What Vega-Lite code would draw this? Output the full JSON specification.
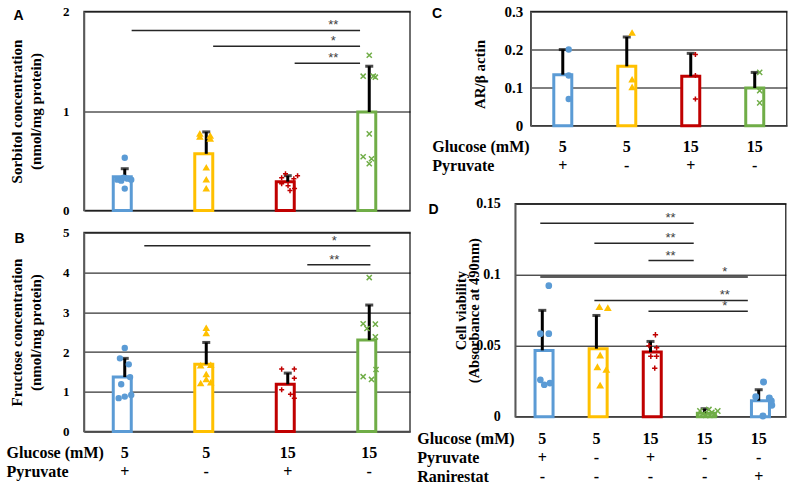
{
  "$schema": "https://vega.github.io/schema/vega-lite/v6.json",
  "background": "white",
  "padding": {"left": 5, "top": 3.5, "right": 0, "bottom": 0},
  "datasets": {
    "bars": [
      {"panel": "A", "g": "5|+", "mean": 0.34, "hi": 0.42},
      {"panel": "A", "g": "5|-", "mean": 0.57, "hi": 0.79},
      {"panel": "A", "g": "15|+", "mean": 0.29, "hi": 0.35},
      {"panel": "A", "g": "15|-", "mean": 0.99, "hi": 1.45},
      {"panel": "B", "g": "5|+", "mean": 1.37, "hi": 1.84},
      {"panel": "B", "g": "5|-", "mean": 1.69, "hi": 2.24},
      {"panel": "B", "g": "15|+", "mean": 1.19, "hi": 1.47},
      {"panel": "B", "g": "15|-", "mean": 2.3, "hi": 3.18},
      {"panel": "C", "g": "5|+", "mean": 0.134, "hi": 0.2},
      {"panel": "C", "g": "5|-", "mean": 0.156, "hi": 0.233},
      {"panel": "C", "g": "15|+", "mean": 0.13, "hi": 0.19},
      {"panel": "C", "g": "15|-", "mean": 0.099, "hi": 0.14},
      {"panel": "D", "g": "5|+|-", "mean": 0.0467, "hi": 0.0749},
      {"panel": "D", "g": "5|-|-", "mean": 0.0479, "hi": 0.0713},
      {"panel": "D", "g": "15|+|-", "mean": 0.0455, "hi": 0.053},
      {"panel": "D", "g": "15|-|-", "mean": 0.0025, "hi": 0.0056},
      {"panel": "D", "g": "15|-|+", "mean": 0.0113, "hi": 0.019}
    ],
    "pts": [
      {"panel": "A", "g": "5|+", "v": 0.53, "j": 0},
      {"panel": "A", "g": "5|+", "v": 0.31, "j": -0.75},
      {"panel": "A", "g": "5|+", "v": 0.30, "j": -0.36},
      {"panel": "A", "g": "5|+", "v": 0.33, "j": -0.1},
      {"panel": "A", "g": "5|+", "v": 0.32, "j": 0.28},
      {"panel": "A", "g": "5|+", "v": 0.31, "j": 0.66},
      {"panel": "A", "g": "5|+", "v": 0.22, "j": 0},
      {"panel": "A", "g": "5|-", "v": 0.77, "j": -0.65},
      {"panel": "A", "g": "5|-", "v": 0.74, "j": -0.65},
      {"panel": "A", "g": "5|-", "v": 0.75, "j": 0.41},
      {"panel": "A", "g": "5|-", "v": 0.72, "j": 0.41},
      {"panel": "A", "g": "5|-", "v": 0.43, "j": 0},
      {"panel": "A", "g": "5|-", "v": 0.31, "j": 0},
      {"panel": "A", "g": "5|-", "v": 0.22, "j": 0},
      {"panel": "A", "g": "15|+", "v": 0.33, "j": -0.62},
      {"panel": "A", "g": "15|+", "v": 0.37, "j": -0.23},
      {"panel": "A", "g": "15|+", "v": 0.32, "j": 0.62},
      {"panel": "A", "g": "15|+", "v": 0.35, "j": 1.0},
      {"panel": "A", "g": "15|+", "v": 0.27, "j": -0.62},
      {"panel": "A", "g": "15|+", "v": 0.25, "j": 0.03},
      {"panel": "A", "g": "15|+", "v": 0.20, "j": 0.23},
      {"panel": "A", "g": "15|+", "v": 0.22, "j": 0.69},
      {"panel": "A", "g": "15|-", "v": 1.56, "j": 0},
      {"panel": "A", "g": "15|-", "v": 1.35, "j": -0.62},
      {"panel": "A", "g": "15|-", "v": 1.35, "j": 0.41},
      {"panel": "A", "g": "15|-", "v": 1.34, "j": 0.62},
      {"panel": "A", "g": "15|-", "v": 0.77, "j": 0},
      {"panel": "A", "g": "15|-", "v": 0.54, "j": -0.62},
      {"panel": "A", "g": "15|-", "v": 0.52, "j": 0.23},
      {"panel": "A", "g": "15|-", "v": 0.47, "j": 0},
      {"panel": "B", "g": "5|+", "v": 2.10, "j": 0},
      {"panel": "B", "g": "5|+", "v": 1.84, "j": -0.49},
      {"panel": "B", "g": "5|+", "v": 1.69, "j": 0.41},
      {"panel": "B", "g": "5|+", "v": 1.37, "j": 0.54},
      {"panel": "B", "g": "5|+", "v": 1.19, "j": -0.36},
      {"panel": "B", "g": "5|+", "v": 0.84, "j": -0.62},
      {"panel": "B", "g": "5|+", "v": 0.88, "j": 0},
      {"panel": "B", "g": "5|+", "v": 0.92, "j": 0.66},
      {"panel": "B", "g": "5|-", "v": 2.60, "j": 0},
      {"panel": "B", "g": "5|-", "v": 2.47, "j": 0},
      {"panel": "B", "g": "5|-", "v": 1.66, "j": -0.57},
      {"panel": "B", "g": "5|-", "v": 1.67, "j": 0.46},
      {"panel": "B", "g": "5|-", "v": 1.44, "j": 0},
      {"panel": "B", "g": "5|-", "v": 1.31, "j": 0},
      {"panel": "B", "g": "5|-", "v": 1.21, "j": -0.57},
      {"panel": "B", "g": "5|-", "v": 1.23, "j": 0.46},
      {"panel": "B", "g": "15|+", "v": 1.57, "j": -0.62},
      {"panel": "B", "g": "15|+", "v": 1.57, "j": 0.67},
      {"panel": "B", "g": "15|+", "v": 1.34, "j": 0.67},
      {"panel": "B", "g": "15|+", "v": 1.05, "j": -0.62},
      {"panel": "B", "g": "15|+", "v": 0.94, "j": 0.28},
      {"panel": "B", "g": "15|+", "v": 0.84, "j": 0.67},
      {"panel": "B", "g": "15|-", "v": 3.87, "j": 0},
      {"panel": "B", "g": "15|-", "v": 2.71, "j": -0.62},
      {"panel": "B", "g": "15|-", "v": 2.59, "j": -0.23},
      {"panel": "B", "g": "15|-", "v": 2.70, "j": 0.62},
      {"panel": "B", "g": "15|-", "v": 2.38, "j": 0.62},
      {"panel": "B", "g": "15|-", "v": 1.38, "j": -0.62},
      {"panel": "B", "g": "15|-", "v": 1.31, "j": 0.23},
      {"panel": "B", "g": "15|-", "v": 1.56, "j": 0.69},
      {"panel": "C", "g": "5|+", "v": 0.20, "j": 0.35},
      {"panel": "C", "g": "5|+", "v": 0.132, "j": 0.35},
      {"panel": "C", "g": "5|+", "v": 0.070, "j": 0.35},
      {"panel": "C", "g": "5|-", "v": 0.244, "j": 0.29},
      {"panel": "C", "g": "5|-", "v": 0.121, "j": 0.29},
      {"panel": "C", "g": "5|-", "v": 0.101, "j": 0.29},
      {"panel": "C", "g": "15|+", "v": 0.187, "j": 0.22},
      {"panel": "C", "g": "15|+", "v": 0.132, "j": 0.22},
      {"panel": "C", "g": "15|+", "v": 0.070, "j": 0.22},
      {"panel": "C", "g": "15|-", "v": 0.140, "j": 0.25},
      {"panel": "C", "g": "15|-", "v": 0.092, "j": 0.25},
      {"panel": "C", "g": "15|-", "v": 0.060, "j": 0.25},
      {"panel": "D", "g": "5|+|-", "v": 0.0923, "j": 0.23},
      {"panel": "D", "g": "5|+|-", "v": 0.0585, "j": -0.63},
      {"panel": "D", "g": "5|+|-", "v": 0.0585, "j": 0.23},
      {"panel": "D", "g": "5|+|-", "v": 0.026, "j": -0.63},
      {"panel": "D", "g": "5|+|-", "v": 0.0225, "j": -0.23},
      {"panel": "D", "g": "5|+|-", "v": 0.0237, "j": 0.35},
      {"panel": "D", "g": "5|-|-", "v": 0.0772, "j": -0.13},
      {"panel": "D", "g": "5|-|-", "v": 0.0765, "j": 0.73},
      {"panel": "D", "g": "5|-|-", "v": 0.0432, "j": -0.05},
      {"panel": "D", "g": "5|-|-", "v": 0.0349, "j": -0.33},
      {"panel": "D", "g": "5|-|-", "v": 0.0331, "j": 0.58},
      {"panel": "D", "g": "5|-|-", "v": 0.022, "j": -0.05},
      {"panel": "D", "g": "15|+|-", "v": 0.0577, "j": 0.07},
      {"panel": "D", "g": "15|+|-", "v": 0.050, "j": -0.59},
      {"panel": "D", "g": "15|+|-", "v": 0.0485, "j": 0.19},
      {"panel": "D", "g": "15|+|-", "v": 0.0425, "j": -0.4},
      {"panel": "D", "g": "15|+|-", "v": 0.0425, "j": 0.19},
      {"panel": "D", "g": "15|+|-", "v": 0.0342, "j": 0},
      {"panel": "D", "g": "15|-|-", "v": 0.004, "j": -0.9},
      {"panel": "D", "g": "15|-|-", "v": 0.002, "j": -0.6},
      {"panel": "D", "g": "15|-|-", "v": 0.001, "j": -0.3},
      {"panel": "D", "g": "15|-|-", "v": 0.005, "j": 0},
      {"panel": "D", "g": "15|-|-", "v": 0.003, "j": 0.3},
      {"panel": "D", "g": "15|-|-", "v": 0.002, "j": 0.6},
      {"panel": "D", "g": "15|-|-", "v": 0.004, "j": 0.9},
      {"panel": "D", "g": "15|-|-", "v": 0.001, "j": 0.1},
      {"panel": "D", "g": "15|-|+", "v": 0.0245, "j": 0.06},
      {"panel": "D", "g": "15|-|+", "v": 0.014, "j": -0.73},
      {"panel": "D", "g": "15|-|+", "v": 0.0132, "j": 0.65},
      {"panel": "D", "g": "15|-|+", "v": 0.011, "j": 0.85},
      {"panel": "D", "g": "15|-|+", "v": 0.008, "j": 0.9},
      {"panel": "D", "g": "15|-|+", "v": 0.0005, "j": 0}
    ],
    "sig": [
      {"panel": "A", "from": "5|+", "to": "15|-", "y": 1.81, "s": "**"},
      {"panel": "A", "from": "5|-", "to": "15|-", "y": 1.65, "s": "*"},
      {"panel": "A", "from": "15|+", "to": "15|-", "y": 1.48, "s": "**"},
      {"panel": "B", "from": "5|+", "to": "15|-", "y": 4.67, "s": "*"},
      {"panel": "B", "from": "15|+", "to": "15|-", "y": 4.19, "s": "**"},
      {"panel": "D", "from": "5|+|-", "to": "15|-|-", "y": 0.1363, "s": "**"},
      {"panel": "D", "from": "5|-|-", "to": "15|-|-", "y": 0.1222, "s": "**"},
      {"panel": "D", "from": "15|+|-", "to": "15|-|-", "y": 0.110, "s": "**"},
      {"panel": "D", "from": "5|+|-", "to": "15|-|+", "y": 0.0983, "s": "*"},
      {"panel": "D", "from": "5|-|-", "to": "15|-|+", "y": 0.0819, "s": "**"},
      {"panel": "D", "from": "15|+|-", "to": "15|-|+", "y": 0.0742, "s": "*"}
    ]
  },
  "spacing": 4.25,
  "hconcat": [
    {
      "spacing": 7.1,
      "vconcat": [
        {
          "width": 326, "height": 199,
          "layer": [
            {"data": {"name": "bars"}, "transform": [{"filter": "datum.panel == 'A'"}],
             "mark": {"type": "bar", "fill": "white", "strokeWidth": 3},
             "encoding": {
               "x": {"field": "g", "type": "nominal", "scale": {"domain": ["5|+", "5|-", "15|+", "15|-"], "paddingInner": 0.718, "paddingOuter": 0.359},
                     "axis": {"orient": "top", "labels": false, "domain": false, "grid": false, "title": "A", "titleFont": "Liberation Sans", "titleFontSize": 14, "titleX": -71, "titleY": 7.8, "titleAlign": "left", "titleBaseline": "alphabetic", "titleAngle": 0}},
               "y": {"field": "mean", "type": "quantitative", "scale": {"domain": [0, 2], "nice": false}, "axis": {"tickCount": 2, "format": "d", "grid": true, "title": ["Sorbitol concentration", "(nmol/mg protein)"], "titleFontSize": 15, "titleLineHeight": 19, "titleX": -74.5, "titleY": 99.5, "titleAngle": -90, "titleAlign": "center", "titleBaseline": "top", "labelFontSize": 13, "labelPadding": 15}},
               "stroke": {"field": "g", "type": "nominal", "scale": {"domain": ["5|+", "5|-", "15|+", "15|-"], "range": ["#5B9BD5", "#FFC000", "#C00000", "#70AD47"]}, "legend": null}
             }},
            {"data": {"name": "bars"}, "transform": [{"filter": "datum.panel == 'A'"}],
             "mark": {"type": "rule", "color": "black", "strokeWidth": 3},
             "encoding": {"x": {"field": "g", "type": "nominal"}, "y": {"field": "mean", "type": "quantitative"}, "y2": {"field": "hi"}}},
            {"data": {"name": "bars"}, "transform": [{"filter": "datum.panel == 'A'"}],
             "mark": {"type": "tick", "color": "black", "size": 8, "thickness": 3},
             "encoding": {"x": {"field": "g", "type": "nominal"}, "y": {"field": "hi", "type": "quantitative"}}},
            {"data": {"name": "pts"}, "transform": [{"filter": "datum.panel == 'A'"}],
             "mark": {"type": "point", "filled": true, "strokeWidth": 1.5, "opacity": 1},
             "encoding": {
               "x": {"field": "g", "type": "nominal"},
               "xOffset": {"field": "j", "type": "quantitative", "scale": {"domain": [-1.13, 1.13]}},
               "y": {"field": "v", "type": "quantitative"},
               "color": {"field": "g", "type": "nominal", "scale": {"domain": ["5|+", "5|-", "15|+", "15|-"], "range": ["#5B9BD5", "#FFC000", "#C00000", "#70AD47"]}, "legend": null},
               "stroke": {"field": "g", "type": "nominal", "legend": null},
               "shape": {"field": "g", "type": "nominal", "scale": {"domain": ["5|+", "5|-", "15|+", "15|-"], "range": ["circle", "triangle-up", "M-1,0L1,0M0,-1L0,1", "M-1,-1L1,1M-1,1L1,-1"]}, "legend": null},
               "size": {"field": "g", "type": "ordinal", "scale": {"domain": ["5|+", "5|-", "15|+", "15|-"], "range": [24, 30, 64, 56]}, "legend": null}
             }},
            {"data": {"name": "sig"}, "transform": [{"filter": "datum.panel == 'A'"}],
             "mark": {"type": "rule", "color": "#262626", "strokeWidth": 1.5},
             "encoding": {"x": {"field": "from", "type": "nominal", "bandPosition": 0.8}, "x2": {"field": "to", "bandPosition": 0.1}, "y": {"field": "y", "type": "quantitative"}}},
            {"data": {"name": "sig"}, "transform": [{"filter": "datum.panel == 'A'"}],
             "mark": {"type": "text", "font": "Liberation Sans", "fontSize": 13, "color": "#404040", "dx": -36, "dy": -1, "baseline": "alphabetic", "align": "center"},
             "encoding": {"x": {"field": "to", "type": "nominal"}, "y": {"field": "y", "type": "quantitative"}, "text": {"field": "s"}}}
          ]
        },
        {
          "width": 326, "height": 199,
          "resolve": {"axis": {"x": "independent"}},
          "layer": [
            {"data": {"name": "bars"}, "transform": [{"filter": "datum.panel == 'B'"}],
             "mark": {"type": "bar", "fill": "white", "strokeWidth": 3},
             "encoding": {
               "x": {"field": "g", "type": "nominal", "scale": {"domain": ["5|+", "5|-", "15|+", "15|-"], "paddingInner": 0.718, "paddingOuter": 0.359},
                     "axis": {"grid": false, "labelExpr": "split(datum.label, '|')", "labelAngle": 0, "labelAlign": "center", "labelFontSize": 16, "labelLineHeight": 19, "labelBaseline": "alphabetic", "labelPadding": 25.4,
                              "title": ["Glucose (mM)", "Pyruvate"], "titleX": -78, "titleY": 25.4, "titleAlign": "left", "titleBaseline": "alphabetic", "titleFontSize": 16, "titleLineHeight": 19, "titleAngle": 0}},
               "y": {"field": "mean", "type": "quantitative", "scale": {"domain": [0, 5], "nice": false}, "axis": {"values": [0, 1, 2, 3, 4, 5], "tickCount": 20, "format": "d", "grid": true, "title": ["Fructose concentration", "(nmol/mg protein)"], "titleFontSize": 15, "titleLineHeight": 19, "titleX": -74.5, "titleY": 99.5, "titleAngle": -90, "titleAlign": "center", "titleBaseline": "top", "labelFontSize": 13, "labelPadding": 15}},
               "stroke": {"field": "g", "type": "nominal", "scale": {"domain": ["5|+", "5|-", "15|+", "15|-"], "range": ["#5B9BD5", "#FFC000", "#C00000", "#70AD47"]}, "legend": null}
             }},
            {"data": {"name": "bars"}, "transform": [{"filter": "datum.panel == 'B'"}],
             "mark": {"type": "rule", "color": "black", "strokeWidth": 3},
             "encoding": {"x": {"field": "g", "type": "nominal", "axis": null}, "y": {"field": "mean", "type": "quantitative"}, "y2": {"field": "hi"}}},
            {"data": {"name": "bars"}, "transform": [{"filter": "datum.panel == 'B'"}],
             "mark": {"type": "tick", "color": "black", "size": 8, "thickness": 3},
             "encoding": {"x": {"field": "g", "type": "nominal", "axis": {"orient": "top", "labels": false, "domain": false, "grid": false, "title": "B", "titleFont": "Liberation Sans", "titleFontSize": 14, "titleX": -70, "titleY": 9.7, "titleAlign": "left", "titleBaseline": "alphabetic", "titleAngle": 0}}, "y": {"field": "hi", "type": "quantitative"}}},
            {"data": {"name": "pts"}, "transform": [{"filter": "datum.panel == 'B'"}],
             "mark": {"type": "point", "filled": true, "strokeWidth": 1.5, "opacity": 1},
             "encoding": {
               "x": {"field": "g", "type": "nominal", "axis": null},
               "xOffset": {"field": "j", "type": "quantitative", "scale": {"domain": [-1.13, 1.13]}},
               "y": {"field": "v", "type": "quantitative"},
               "color": {"field": "g", "type": "nominal", "scale": {"domain": ["5|+", "5|-", "15|+", "15|-"], "range": ["#5B9BD5", "#FFC000", "#C00000", "#70AD47"]}, "legend": null},
               "stroke": {"field": "g", "type": "nominal", "legend": null},
               "shape": {"field": "g", "type": "nominal", "scale": {"domain": ["5|+", "5|-", "15|+", "15|-"], "range": ["circle", "triangle-up", "M-1,0L1,0M0,-1L0,1", "M-1,-1L1,1M-1,1L1,-1"]}, "legend": null},
               "size": {"field": "g", "type": "ordinal", "scale": {"domain": ["5|+", "5|-", "15|+", "15|-"], "range": [24, 30, 64, 56]}, "legend": null}
             }},
            {"data": {"name": "sig"}, "transform": [{"filter": "datum.panel == 'B'"}],
             "mark": {"type": "rule", "color": "#262626", "strokeWidth": 1.5},
             "encoding": {"x": {"field": "from", "type": "nominal", "bandPosition": 1.35, "axis": null}, "x2": {"field": "to", "bandPosition": 0.55}, "y": {"field": "y", "type": "quantitative"}}},
            {"data": {"name": "sig"}, "transform": [{"filter": "datum.panel == 'B'"}],
             "mark": {"type": "text", "font": "Liberation Sans", "fontSize": 13, "color": "#404040", "dx": -35, "dy": -1, "baseline": "alphabetic", "align": "center"},
             "encoding": {"x": {"field": "to", "type": "nominal", "axis": null}, "y": {"field": "y", "type": "quantitative"}, "text": {"field": "s"}}}
          ]
        }
      ]
    },
    {
      "spacing": 21.2,
      "vconcat": [
        {
          "spacing": -86.5,
          "hconcat": [
            {"width": 1, "height": 1, "view": {"stroke": null}, "data": {"values": [{"k": 1}]}, "mark": {"type": "point", "opacity": 0, "size": 1, "strokeWidth": 0}},
            {
              "width": 256, "height": 114.2,
              "resolve": {"axis": {"x": "independent"}},
              "layer": [
                {"data": {"name": "bars"}, "transform": [{"filter": "datum.panel == 'C'"}],
                 "mark": {"type": "bar", "fill": "white", "strokeWidth": 3},
                 "encoding": {
                   "x": {"field": "g", "type": "nominal", "scale": {"domain": ["5|+", "5|-", "15|+", "15|-"], "paddingInner": 0.719, "paddingOuter": 0.36},
                         "axis": {"grid": false, "labelExpr": "split(datum.label, '|')", "labelAngle": 0, "labelAlign": "center", "labelFontSize": 16, "labelLineHeight": 19, "labelBaseline": "alphabetic", "labelPadding": 25.5,
                                  "title": ["Glucose (mM)", "Pyruvate"], "titleX": -99, "titleY": 25.5, "titleAlign": "left", "titleBaseline": "alphabetic", "titleFontSize": 16, "titleLineHeight": 19, "titleAngle": 0}},
                   "y": {"field": "mean", "type": "quantitative", "scale": {"domain": [0, 0.3], "nice": false}, "axis": {"values": [0, 0.1, 0.2, 0.3], "tickCount": 20, "format": "~g", "grid": true, "title": "AR/β actin", "titleFontSize": 15, "titleX": -58.5, "titleY": 62.5, "titleAngle": -90, "titleAlign": "center", "titleBaseline": "top", "labelFontSize": 15, "labelPadding": 8}},
                   "stroke": {"field": "g", "type": "nominal", "scale": {"domain": ["5|+", "5|-", "15|+", "15|-"], "range": ["#5B9BD5", "#FFC000", "#C00000", "#70AD47"]}, "legend": null}
                 }},
                {"data": {"name": "bars"}, "transform": [{"filter": "datum.panel == 'C'"}],
                 "mark": {"type": "rule", "color": "black", "strokeWidth": 3},
                 "encoding": {"x": {"field": "g", "type": "nominal", "axis": null}, "y": {"field": "mean", "type": "quantitative"}, "y2": {"field": "hi"}}},
                {"data": {"name": "bars"}, "transform": [{"filter": "datum.panel == 'C'"}],
                 "mark": {"type": "tick", "color": "black", "size": 8, "thickness": 3},
                 "encoding": {"x": {"field": "g", "type": "nominal", "axis": {"orient": "top", "labels": false, "domain": false, "grid": false, "title": "C", "titleFont": "Liberation Sans", "titleFontSize": 14, "titleX": -99.3, "titleY": 6.2, "titleAlign": "left", "titleBaseline": "alphabetic", "titleAngle": 0}}, "y": {"field": "hi", "type": "quantitative"}}},
                {"data": {"name": "pts"}, "transform": [{"filter": "datum.panel == 'C'"}],
                 "mark": {"type": "point", "filled": true, "strokeWidth": 1.5, "opacity": 1},
                 "encoding": {
                   "x": {"field": "g", "type": "nominal", "axis": null},
                   "xOffset": {"field": "j", "type": "quantitative", "scale": {"domain": [-1.17, 1.17]}},
                   "y": {"field": "v", "type": "quantitative"},
                   "color": {"field": "g", "type": "nominal", "scale": {"domain": ["5|+", "5|-", "15|+", "15|-"], "range": ["#5B9BD5", "#FFC000", "#C00000", "#70AD47"]}, "legend": null},
                   "stroke": {"field": "g", "type": "nominal", "legend": null},
                   "shape": {"field": "g", "type": "nominal", "scale": {"domain": ["5|+", "5|-", "15|+", "15|-"], "range": ["circle", "triangle-up", "M-1,0L1,0M0,-1L0,1", "M-1,-1L1,1M-1,1L1,-1"]}, "legend": null},
                   "size": {"field": "g", "type": "ordinal", "scale": {"domain": ["5|+", "5|-", "15|+", "15|-"], "range": [24, 30, 56, 50]}, "legend": null}
                 }}
              ]
            }
          ]
        },
        {
          "width": 270.5, "height": 213,
          "resolve": {"axis": {"x": "independent"}},
          "layer": [
            {"data": {"name": "bars"}, "transform": [{"filter": "datum.panel == 'D'"}],
             "mark": {"type": "bar", "fill": "white", "strokeWidth": 3},
             "encoding": {
               "x": {"field": "g", "type": "nominal", "scale": {"domain": ["5|+|-", "5|-|-", "15|+|-", "15|-|-", "15|-|+"], "paddingInner": 0.732, "paddingOuter": 0.366},
                     "axis": {"grid": false, "labelExpr": "split(datum.label, '|')", "labelAngle": 0, "labelAlign": "center", "labelFontSize": 16, "labelLineHeight": 19, "labelBaseline": "alphabetic", "labelPadding": 26.4,
                              "title": ["Glucose (mM)", "Pyruvate", "Ranirestat"], "titleX": -98.5, "titleY": 26.4, "titleAlign": "left", "titleBaseline": "alphabetic", "titleFontSize": 16, "titleLineHeight": 19, "titleAngle": 0}},
               "y": {"field": "mean", "type": "quantitative", "scale": {"domain": [0, 0.15], "nice": false}, "axis": {"values": [0, 0.05, 0.1, 0.15], "tickCount": 20, "format": "~g", "grid": true, "title": ["Cell viability", "(Absorbance at 490nm)"], "titleFontSize": 14.5, "titleLineHeight": 13, "titleX": -60.75, "titleY": 106.5, "titleAngle": -90, "titleAlign": "center", "titleBaseline": "top", "labelFontSize": 14, "labelPadding": 15}},
               "stroke": {"field": "g", "type": "nominal", "scale": {"domain": ["5|+|-", "5|-|-", "15|+|-", "15|-|-", "15|-|+"], "range": ["#5B9BD5", "#FFC000", "#C00000", "#70AD47", "#FF0000"]}, "legend": null}
             }},
            {"data": {"name": "bars"}, "transform": [{"filter": "datum.panel == 'D'"}],
             "mark": {"type": "rule", "color": "black", "strokeWidth": 3},
             "encoding": {"x": {"field": "g", "type": "nominal", "axis": null}, "y": {"field": "mean", "type": "quantitative"}, "y2": {"field": "hi"}}},
            {"data": {"name": "bars"}, "transform": [{"filter": "datum.panel == 'D'"}],
             "mark": {"type": "tick", "color": "black", "size": 8, "thickness": 3},
             "encoding": {"x": {"field": "g", "type": "nominal", "axis": {"orient": "top", "labels": false, "domain": false, "grid": false, "title": "D", "titleFont": "Liberation Sans", "titleFontSize": 14, "titleX": -87.2, "titleY": 10, "titleAlign": "left", "titleBaseline": "alphabetic", "titleAngle": 0}}, "y": {"field": "hi", "type": "quantitative"}}},
            {"data": {"name": "pts"}, "transform": [{"filter": "datum.panel == 'D'"}],
             "mark": {"type": "point", "filled": true, "strokeWidth": 1.5, "opacity": 1},
             "encoding": {
               "x": {"field": "g", "type": "nominal", "axis": null},
               "xOffset": {"field": "j", "type": "quantitative", "scale": {"domain": [-1.17, 1.17]}},
               "y": {"field": "v", "type": "quantitative"},
               "color": {"field": "g", "type": "nominal", "scale": {"domain": ["5|+|-", "5|-|-", "15|+|-", "15|-|-", "15|-|+"], "range": ["#5B9BD5", "#FFC000", "#C00000", "#70AD47", "#FF0000"]}, "legend": null},
               "stroke": {"field": "g", "type": "nominal", "legend": null},
               "shape": {"field": "g", "type": "nominal", "scale": {"domain": ["5|+|-", "5|-|-", "15|+|-", "15|-|-", "15|-|+"], "range": ["circle", "triangle-up", "M-1,0L1,0M0,-1L0,1", "M-1,-1L1,1M-1,1L1,-1", "M-1,-1L1,1M-1,1L1,-1M-0.5,-1L0.5,-1M-0.5,1L0.5,1"]}, "legend": null},
               "size": {"field": "g", "type": "ordinal", "scale": {"domain": ["5|+|-", "5|-|-", "15|+|-", "15|-|-", "15|-|+"], "range": [24, 30, 56, 40, 40]}, "legend": null}
             }},
            {"data": {"name": "sig"}, "transform": [{"filter": "datum.panel == 'D'"}],
             "mark": {"type": "rule", "color": "#262626", "strokeWidth": 1.5},
             "encoding": {"x": {"field": "from", "type": "nominal", "bandPosition": 0.36, "axis": null}, "x2": {"field": "to", "bandPosition": -0.25}, "y": {"field": "y", "type": "quantitative"}}},
            {"data": {"name": "sig"}, "transform": [{"filter": "datum.panel == 'D'"}],
             "mark": {"type": "text", "font": "Liberation Sans", "fontSize": 13, "color": "#404040", "dx": -34, "dy": -1, "baseline": "alphabetic", "align": "center"},
             "encoding": {"x": {"field": "to", "type": "nominal", "axis": null}, "y": {"field": "y", "type": "quantitative"}, "text": {"field": "s"}}}
          ]
        }
      ]
    }
  ],
  "config": {
    "view": {"stroke": "#404040", "strokeWidth": 1.5},
    "axis": {"domainColor": "#595959", "domainWidth": 1.5, "ticks": false, "tickSize": 0, "gridColor": "black", "gridWidth": 1, "labelColor": "black", "titleColor": "black", "labelFont": "Liberation Serif", "labelFontWeight": "bold", "titleFont": "Liberation Serif", "titleFontWeight": "bold"}
  }
}
